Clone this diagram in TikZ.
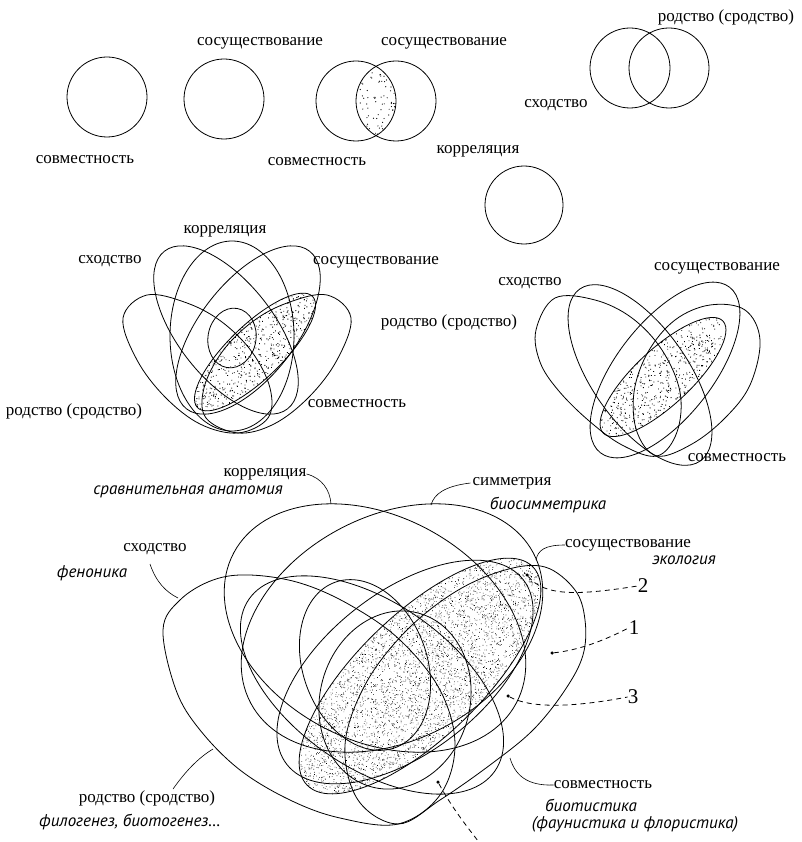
\documentclass[tikz,border=0pt]{standalone}
\usepackage{fontspec}
\setmainfont{Liberation Serif}
\newfontfamily\handfont{PT Sans}
\newcommand\stipfill[7]{% cx cy angle a b N dotradius
  \begin{scope}[shift={(#1,#2)},rotate=#3]
    \clip (0,0) ellipse [x radius=#4,y radius=#5];
    \foreach \k in {1,...,#6}{\fill ({#4*rand},{#5*rand}) circle (#7);}
  \end{scope}}
\begin{document}
\begin{tikzpicture}[x=1pt,y=-1pt,
  outl/.style={draw=black,line width=0.8pt},
  lab/.style={inner sep=0pt,font=\fontsize{17}{19}\selectfont},
  hlab/.style={inner sep=0pt,font=\handfont\itshape\fontsize{17}{19}\selectfont},
  numlab/.style={inner sep=0pt,font=\fontsize{21}{23}\selectfont},
  lead/.style={draw=black,line width=0.6pt},
  dlead/.style={draw=black,line width=0.8pt,dash pattern=on 5pt off 4pt},
  pt/.style={circle,fill=black,inner sep=0pt,minimum size=3.5pt},
]
\useasboundingbox (0,0) rectangle (801,842);
\fill[white] (0,0) rectangle (801,842);
\pgfmathsetseed{4242}

% ---------------- top row ----------------
\draw[outl] (107,97) circle (40);
\draw[outl] (224,99) circle (40);
\begin{scope}
  \clip (356,101) circle (40);
  \clip (396,101) circle (40);
  \foreach \k in {1,...,110}{\fill ({376+20*rand},{101+40*rand}) circle (0.6);}
\end{scope}
\draw[outl] (356,101) circle (40);
\draw[outl] (396,101) circle (40);
\draw[outl] (630,68) circle (40);
\draw[outl] (669,68) circle (40);
\draw[outl] (524,205) circle (39);

\node[lab] (t1) at (85,160) {совместность};
\node[lab] (t2) at (260,43) {сосуществование};
\node[lab] (t3) at (444,43) {сосуществование};
\node[lab] (t4) at (317,162) {совместность};
\node[lab] (t5) at (726,17) {родство (сродство)};
\node[lab] (t6) at (556,105) {сходство};
\node[lab] (t7) at (478,151) {корреляция};

% ---------------- middle left ----------------
\stipfill{255}{352}{44}{80}{27}{650}{0.6}
\draw[outl] plot[smooth cycle,tension=0.6] coordinates {(123,318) (147,295) (187,303) (222,322) (252,352) (270,388) (268,418) (238,433) (200,424) (165,397) (137,360)};
\draw[outl] plot[smooth cycle,tension=0.6] coordinates {(351,318) (327,295) (287,303) (252,322) (222,352) (204,388) (206,418) (238,433) (274,424) (309,397) (337,360)};
\draw[outl,shift={(226,330)},rotate=-52] (0,0) ellipse [x radius=100,y radius=48];
\draw[outl,shift={(248,330)},rotate=52] (0,0) ellipse [x radius=100,y radius=48];
\draw[outl] (232,336) ellipse [x radius=62,y radius=95];
\draw[outl,shift={(232,338)},rotate=-10] (0,0) ellipse [x radius=24,y radius=30];
\draw[outl,shift={(255,352)},rotate=44] (0,0) ellipse [x radius=80,y radius=27];

\node[lab] (m1) at (225,231) {корреляция};
\node[lab] (m2) at (110,261) {сходство};
\node[lab] (m3) at (376,262) {сосуществование};
\node[lab] (m4) at (74,411) {родство (сродство)};
\node[lab] (m5) at (357,404) {совместность};

% ---------------- middle right ----------------
\stipfill{663}{377}{43}{82}{28}{650}{0.6}
\draw[outl] plot[smooth cycle,tension=0.6] coordinates {(536,330) (555,298) (595,300) (632,318) (662,350) (680,392) (677,432) (657,456) (622,445) (588,420) (558,390) (540,362)};
\draw[outl] plot[smooth cycle,tension=0.6] coordinates {(760,340) (745,310) (710,305) (675,320) (648,352) (634,392) (637,432) (657,456) (692,444) (725,418) (750,385)};
\draw[outl,shift={(640,375)},rotate=-55] (0,0) ellipse [x radius=105,y radius=48];
\draw[outl,shift={(665,370)},rotate=52] (0,0) ellipse [x radius=105,y radius=48];
\draw[outl,shift={(663,377)},rotate=43] (0,0) ellipse [x radius=82,y radius=28];

\node[lab] (r1) at (717,268) {сосуществование};
\node[lab] (r2) at (530,283) {сходство};
\node[lab] (r3) at (449,322) {родство (сродство)};
\node[lab] (r4) at (737,458) {совместность};

% ---------------- bottom ----------------
\stipfill{420}{676}{44}{157}{62}{5200}{0.45}
% eggs
\draw[outl] plot[smooth cycle,tension=0.6] coordinates {(163,630) (180,600) (213,580) (250,575) (300,583) (350,605) (400,640) (440,690) (455,745) (440,795) (398,824) (340,818) (290,800) (240,770) (200,730) (176,690)};
\draw[outl] plot[smooth cycle,tension=0.6] coordinates {(585,620) (575,590) (545,567) (505,570) (455,592) (405,632) (365,685) (345,745) (358,800) (398,824) (440,800) (490,765) (533,730) (565,690) (583,655)};
% ellipses
\draw[outl,shift={(375,628)},rotate=-28] (0,0) ellipse [x radius=160,y radius=112];
\draw[outl,shift={(392,628)},rotate=28] (0,0) ellipse [x radius=160,y radius=112];
\draw[outl,shift={(372,685)},rotate=-35] (0,0) ellipse [x radius=150,y radius=82];
\draw[outl,shift={(405,672)},rotate=38] (0,0) ellipse [x radius=150,y radius=80];
\draw[outl,shift={(365,665)},rotate=20] (0,0) ellipse [x radius=62,y radius=88];
\draw[outl,shift={(395,700)},rotate=-15] (0,0) ellipse [x radius=75,y radius=90];
\draw[outl,shift={(420,676)},rotate=44] (0,0) ellipse [x radius=157,y radius=62];

% labels
\node[lab] (b1) at (265,474) {корреляция};
\node[hlab] (b1i) at (188,492) {сравнительная анатомия};
\node[lab] (b2) at (512,483) {симметрия};
\node[hlab] (b2i) at (548,505) {биосимметрика};
\node[lab] (b3) at (155,549) {сходство};
\node[hlab] (b3i) at (92,573) {феноника};
\node[lab] (b4) at (628,545) {сосуществование};
\node[hlab] (b4i) at (684,560) {экология};
\node[lab] (b5) at (147,798) {родство (сродство)};
\node[hlab] (b5i) at (130,822) {филогенез, биотогенез\dots};
\node[lab] (b6) at (603,785) {совместность};
\node[hlab] (b6i) at (591,805) {биотистика};
\node[hlab] (b6ii) at (635,824) {(фаунистика и флористика)};
\node[numlab] (n2) at (643,586) {2};
\node[numlab] (n1) at (634,628) {1};
\node[numlab] (n3) at (633,697) {3};

% leader end points on outlines
\coordinate (e1) at (331,504);
\coordinate (e2) at (431,505);
\coordinate (e3) at (178,598);
\coordinate (e4) at (536,560);
\coordinate (e5) at (213,749);
\coordinate (e6) at (510,758);
\coordinate (free) at (482,846);

\draw[lead] (b1.east) .. controls (322,478) and (330,490) .. (e1);
\draw[lead] (b2.west) ++(-2,0) .. controls (445,486) and (434,494) .. (e2);
\draw[lead] (150,564) .. controls (156,582) and (166,592) .. (e3);
\draw[lead] (b4.west) .. controls (545,545) and (538,550) .. (e4);
\draw[lead] (173,789) .. controls (185,772) and (198,758) .. (e5);
\draw[lead] (e6) .. controls (515,775) and (527,786) .. (b6.west);

\node[pt] (d2) at (527,575) {};
\node[pt] (d1) at (552,653) {};
\node[pt] (d3) at (508,696) {};
\node[pt] (d4) at (438,782) {};
\draw[dlead] (d2) .. controls (545,597) and (580,595) .. (n2.west);
\draw[dlead] (d1) .. controls (580,650) and (605,640) .. (n1.west);
\draw[dlead] (d3) .. controls (530,708) and (570,708) .. (n3.west);
\draw[dlead] (d4) .. controls (452,808) and (468,828) .. (free);
\end{tikzpicture}
\end{document}
